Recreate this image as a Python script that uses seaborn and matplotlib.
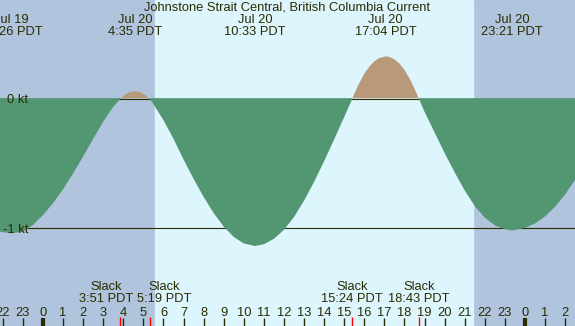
import numpy as np
import matplotlib
matplotlib.use("Agg")
import matplotlib.pyplot as plt
import seaborn as sns

sns.set_theme(style="white")
plt.rcParams['font.family'] = ['Liberation Sans', 'DejaVu Sans']

# Hours from Jul 20 00:00 PDT and current speed in knots
hours = [-2.5, -2.0, -1.567, -1.0, -0.5, 0.0, 0.5, 1.0, 1.5, 2.0, 2.5, 3.0, 3.5,
         3.85, 4.1, 4.35, 4.583, 4.85, 5.1, 5.317, 5.5, 6.0, 6.5, 7.0, 7.5, 8.0,
         8.5, 9.0, 9.5, 10.0, 10.55, 11.0, 11.5, 12.0, 12.5, 13.0, 13.5, 14.0,
         14.5, 15.0, 15.4, 15.5, 15.75, 16.0, 16.25, 16.5, 16.75, 17.067, 17.25,
         17.5, 17.75, 18.0, 18.25, 18.5, 18.717, 19.0, 19.5, 20.0, 20.5, 21.0,
         21.5, 22.0, 22.5, 23.0, 23.35, 24.0, 24.5, 25.0, 25.5, 26.0, 26.5, 27.0]
knots = [-1.015, -1.033, -1.04, -1.03, -0.977, -0.90, -0.807, -0.70, -0.577,
         -0.445, -0.308, -0.176, -0.06, 0.0, 0.034, 0.054, 0.06, 0.052, 0.03, 0.0,
         -0.04, -0.165, -0.31, -0.47, -0.62, -0.76, -0.885, -0.99, -1.07, -1.12,
         -1.14, -1.126, -1.084, -1.014, -0.915, -0.788, -0.642, -0.482, -0.313,
         -0.139, 0.0, 0.04, 0.124, 0.195, 0.251, 0.292, 0.318, 0.33, 0.326, 0.307,
         0.274, 0.225, 0.16, 0.08, 0.0, -0.10, -0.26, -0.42, -0.57, -0.71, -0.83,
         -0.92, -0.98, -1.01, -1.02, -1.0, -0.965, -0.91, -0.835, -0.74, -0.625,
         -0.50]

# Max / min current events
peak_hours = [-1.567, 4.583, 10.55, 17.067, 23.35]
peak_dates = ["Jul 19", "Jul 20", "Jul 20", "Jul 20", "Jul 20"]
peak_times = ["22:26 PDT", "4:35 PDT", "10:33 PDT", "17:04 PDT", "23:21 PDT"]

# Slack water events
slack_hours = [3.85, 5.317, 15.4, 18.717]
slack_times = ["3:51 PDT", "5:19 PDT", "15:24 PDT", "18:43 PDT"]

# Hour ticks along the bottom
tick_hours = list(range(-2, 27))
tick_labels = ["22", "23", "0", "1", "2", "3", "4", "5", "6", "7", "8", "9",
               "10", "11", "12", "13", "14", "15", "16", "17", "18", "19", "20",
               "21", "22", "23", "0", "1", "2"]
midnights = [0, 24]

sunrise, sunset = 5.58, 21.42
ref_levels = [0, -1]
ref_labels = ["0 kt", "-1 kt"]

title = "Johnstone Strait Central, British Columbia Current"

night = "#b0c4de"
day = "#ddf6fe"
ebb = "#529672"
flood = "#b8997a"
ink = "#2b2b00"
fs = 9.3

fig = plt.figure(figsize=(5.75, 3.26), dpi=100)
ax = fig.add_axes([0, 0, 1, 1])
ax.set_facecolor(night)
ax.set_xlim(-2.141, 26.49)
ax.set_ylim(-1.760, 0.767)

ax.axvspan(sunrise, sunset, color=day, zorder=0)

for lvl in ref_levels:
    ax.axhline(lvl, color=ink, lw=0.8, zorder=1)

h = np.array(hours)
k = np.array(knots)
# ebb fill reaches a hair above zero so the zero line only shows under the flood
ax.fill_between(h, k, 0.006, where=k <= 0, interpolate=True, color=ebb, lw=0, zorder=2)
ax.fill_between(h, k, 0.006, where=k >= 0, interpolate=True, color=flood, lw=0, zorder=2)

ylab = ax.get_yaxis_transform()
for lvl, lab in zip(ref_levels, ref_labels):
    ax.text(0.049, lvl - 0.012, lab, transform=ylab, ha="right", va="center",
            fontsize=fs, color=ink, zorder=3)

# title and extreme labels
ax.text(0.5, 0.976, title, transform=ax.transAxes, ha="center", va="center",
        fontsize=fs, color=ink)
xlab = ax.get_xaxis_transform()
for t, d, s in zip(peak_hours, peak_dates, peak_times):
    ax.text(t, 0.938, d, transform=xlab, ha="center", va="center", fontsize=fs, color=ink)
    ax.text(t, 0.901, s, transform=xlab, ha="center", va="center", fontsize=fs, color=ink)

# slack labels (first pair pushed apart so they do not overlap)
nudge = [-0.72, 0.72, 0, 0]
for t, s, n in zip(slack_hours, slack_times, nudge):
    ax.text(t + n, 0.119, "Slack", transform=xlab, ha="center", va="center",
            fontsize=fs, color=ink)
    ax.text(t + n, 0.082, s, transform=xlab, ha="center", va="center",
            fontsize=fs, color=ink)

# hour ticks inside the plot
ax.set_xticks(tick_hours)
ax.set_xticklabels(tick_labels)
ax.tick_params(axis="x", direction="in", length=5.5, width=1, color=ink,
               labelcolor=ink, labelsize=fs, pad=-14, bottom=True)
ax.set_yticks([])
ax.vlines(midnights, 0, 0.025, transform=xlab, color=ink, lw=3, zorder=4)
ax.vlines(slack_hours, 0, 0.027, transform=xlab, color="red", lw=1, zorder=4)

for sp in ax.spines.values():
    sp.set_visible(False)

fig.savefig("out.png", dpi=100)
